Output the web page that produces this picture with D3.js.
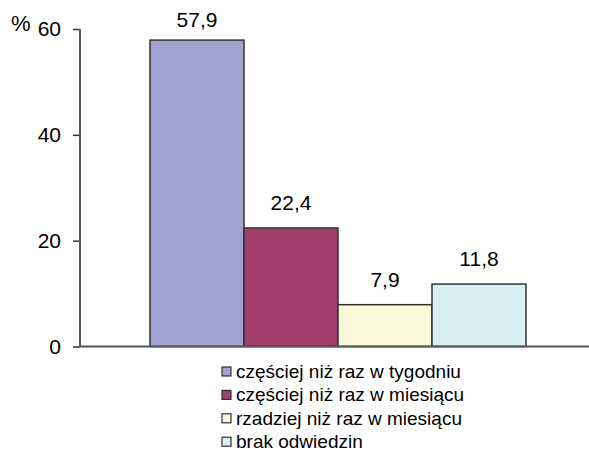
<!DOCTYPE html>
<html>
<head>
<meta charset="utf-8">
<script src="https://cdn.jsdelivr.net/npm/d3@7"></script>
<style>
  body { margin: 0; background: #fff; }
  text { font-family: Arial, "Liberation Sans", sans-serif; fill: #000; }
</style>
</head>
<body>
<svg id="chart"></svg>
<script>
// data
const series = ['częściej niż raz w tygodniu', 'częściej niż raz w miesiącu', 'rzadziej niż raz w miesiącu', 'brak odwiedzin'];
const values = [57.9, 22.4, 7.9, 11.8];
const labels = ['57,9', '22,4', '7,9', '11,8'];
const colors = ['#a3a3d1', '#a13d6f', '#fafada', '#daeef5'];
const yTicks = [0, 20, 40, 60];

const W = 589, H = 452;
const svg = d3.select('#chart').attr('width', W).attr('height', H);

const x0 = 80, xEnd = 589, yTop = 29, yBase = 346.5;

const yScale = d3.scaleLinear().domain([0, 60]).range([yBase, yTop]);
const xScale = d3.scaleBand().domain(series).range([150, 526]).padding(0);

// y axis
const yAxis = d3.axisLeft(yScale).tickValues(yTicks).tickSize(7).tickPadding(12)
  .tickFormat(d3.format('d'));
const yAxisG = svg.append('g').attr('transform', `translate(${x0},0)`).call(yAxis);
yAxisG.select('.domain').remove();
yAxisG.selectAll('.tick line').attr('stroke', '#333').attr('stroke-width', 1.5);
yAxisG.selectAll('.tick text').style('font-size', '21px')
  .style('font-family', 'Arial, "Liberation Sans", sans-serif').attr('fill', '#000');

// bars
svg.selectAll('.bar')
  .data(values)
  .enter()
  .append('rect')
  .attr('class', 'bar')
  .attr('x', (d, i) => xScale(series[i]))
  .attr('y', d => yScale(d))
  .attr('width', xScale.bandwidth())
  .attr('height', d => yBase - yScale(d))
  .attr('fill', (d, i) => colors[i])
  .attr('stroke', '#333')
  .attr('stroke-width', 1.5);

// value labels
svg.selectAll('.val')
  .data(values)
  .enter()
  .append('text')
  .attr('x', (d, i) => xScale(series[i]) + xScale.bandwidth() / 2)
  .attr('y', d => Math.max(26.5, yScale(d) - 18))
  .attr('text-anchor', 'middle')
  .style('font-size', '21px')
  .text((d, i) => labels[i]);

// axis lines
svg.append('line')
  .attr('x1', x0).attr('x2', x0).attr('y1', yTop).attr('y2', yBase)
  .attr('stroke', '#555').attr('stroke-width', 2);
svg.append('line')
  .attr('x1', x0).attr('x2', xEnd).attr('y1', yBase).attr('y2', yBase)
  .attr('stroke', '#555').attr('stroke-width', 2);

// % unit
svg.append('text')
  .attr('x', 11).attr('y', 31)
  .style('font-size', '22px')
  .text('%');

// legend
const legend = svg.append('g').attr('transform', 'translate(222,367)');
const rows = legend.selectAll('.leg')
  .data(series)
  .enter()
  .append('g')
  .attr('transform', (d, i) => `translate(0,${i * 23.4})`);
rows.append('rect')
  .attr('width', 9).attr('height', 9)
  .attr('fill', (d, i) => colors[i])
  .attr('stroke', '#333').attr('stroke-width', 1.2);
rows.append('text')
  .attr('x', 14).attr('y', 11)
  .style('font-size', '19px')
  .text(d => d);
</script>
</body>
</html>
